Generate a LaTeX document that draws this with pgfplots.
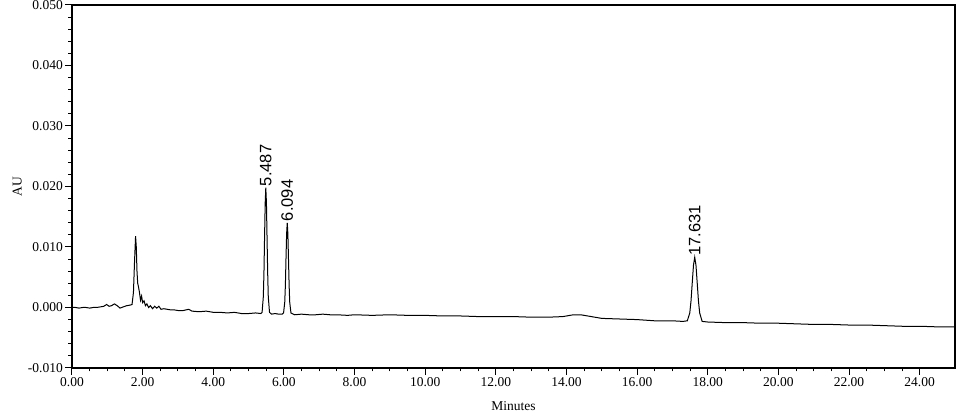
\documentclass[border=0pt]{standalone}
\usepackage{fontspec}
\setmainfont{Liberation Serif}
\newfontfamily\lsans{Liberation Sans}
\usepackage{pgfplots}
\pgfplotsset{compat=1.18}
\pgfplotstableread{
t v
0.00 0.0000
0.10 0.0000
0.20 -0.0001
0.30 0.0000
0.40 0.0000
0.50 -0.0001
0.60 0.0000
0.70 0.0000
0.80 0.0001
0.90 0.0002
0.98 0.0005
1.05 0.0002
1.12 0.0003
1.20 0.0006
1.28 0.0003
1.36 -0.0001
1.45 0.0001
1.55 0.0003
1.65 0.0004
1.70 0.0005
1.74 0.0025
1.77 0.0075
1.80 0.0118
1.82 0.0100
1.84 0.0060
1.86 0.0040
1.88 0.0035
1.91 0.0025
1.94 0.0012
1.97 0.0019
2.00 0.0008
2.04 0.0011
2.08 0.0003
2.12 0.0006
2.17 0.0000
2.22 0.0003
2.28 -0.0002
2.34 0.0002
2.40 -0.0001
2.46 0.0002
2.52 -0.0003
2.60 -0.0002
2.70 -0.0003
2.80 -0.0004
2.90 -0.0004
3.00 -0.0005
3.15 -0.0005
3.30 -0.0003
3.40 -0.0006
3.60 -0.0007
3.80 -0.0006
4.00 -0.0008
4.20 -0.0008
4.40 -0.0009
4.60 -0.0008
4.80 -0.0010
5.00 -0.0010
5.20 -0.0009
5.35 -0.0010
5.382 -0.0008
5.417 0.0018
5.435 0.0058
5.452 0.0116
5.470 0.0173
5.487 0.0198
5.505 0.0173
5.522 0.0116
5.540 0.0058
5.557 0.0018
5.592 -0.0008
5.65 -0.0011
5.75 -0.0010
5.85 -0.0011
5.95 -0.0011
5.99 -0.0009
6.024 0.0009
6.042 0.0038
6.059 0.0081
6.077 0.0122
6.094 0.0140
6.112 0.0122
6.129 0.0081
6.147 0.0038
6.164 0.0009
6.199 -0.0009
6.30 -0.0012
6.50 -0.0011
6.70 -0.0012
6.90 -0.0012
7.10 -0.0011
7.30 -0.0012
7.50 -0.0012
7.80 -0.0013
8.00 -0.0012
8.50 -0.0013
9.00 -0.0012
9.50 -0.0013
10.00 -0.0013
10.50 -0.0014
11.00 -0.0014
11.50 -0.0015
12.00 -0.0015
12.50 -0.0015
13.00 -0.0016
13.50 -0.0016
13.90 -0.0015
14.20 -0.0012
14.40 -0.0012
14.70 -0.0015
15.00 -0.0018
15.50 -0.0019
16.00 -0.0020
16.50 -0.0022
17.00 -0.0022
17.30 -0.0023
17.421 -0.0022
17.491 -0.0009
17.526 0.0011
17.561 0.0041
17.596 0.0070
17.631 0.0083
17.666 0.0070
17.701 0.0041
17.736 0.0011
17.771 -0.0009
17.841 -0.0023
18.00 -0.0024
18.50 -0.0025
19.00 -0.0025
19.50 -0.0026
20.00 -0.0026
20.50 -0.0027
21.00 -0.0028
21.50 -0.0028
22.00 -0.0029
22.50 -0.0029
23.00 -0.0030
23.50 -0.0031
24.00 -0.0031
24.50 -0.0032
25.00 -0.0032
}\trace
\pgfplotstableread{
t v label
5.487 0.0198 5.487
6.094 0.0140 6.094
17.631 0.0083 17.631
}\peaks
\begin{document}
\begin{tikzpicture}
\begin{axis}[
  scale only axis, width=883pt, height=363pt,
  at={(0pt,0pt)}, anchor=south west,
  xmin=0, xmax=25, ymin=-0.01, ymax=0.05,
  xtick={0,2,4,6,8,10,12,14,16,18,20,22,24},
  xticklabels={0.00,2.00,4.00,6.00,8.00,10.00,12.00,14.00,16.00,18.00,20.00,22.00,24.00},
  ytick={-0.01,0,0.01,0.02,0.03,0.04,0.05},
  yticklabels={-0.010,0.000,0.010,0.020,0.030,0.040,0.050},
  scaled y ticks=false, scaled x ticks=false,
  minor x tick num=3, minor y tick num=4,
  tick align=outside, tick pos=left,
  major tick length=7pt, minor tick length=3.5pt,
  every tick/.style={black, line width=1pt},
  axis line style={line width=1.3pt},
  font=\fontsize{13.5}{15}\selectfont,
  xticklabel style={inner sep=2pt},
  yticklabel style={inner sep=2pt},
  xlabel={Minutes}, ylabel={AU},
  every axis x label/.style={at={(axis description cs:0.5,-0.104)}, anchor=center},
  every axis y label/.style={at={(axis description cs:-0.062,0.5)}, rotate=90, anchor=center},
  clip=false,
]
\addplot[black, line width=1pt] table[x=t, y=v] {\trace};
\addplot[draw=none, mark=none, nodes near coords, point meta=explicit symbolic,
  nodes near coords style={rotate=90, anchor=west, inner sep=1.5pt, font=\lsans\fontsize{16.5}{18}\selectfont}]
  table[x=t, y=v, meta=label] {\peaks};
\end{axis}
\pgfresetboundingbox
\useasboundingbox (-72pt,-44pt) rectangle (903pt,368pt);
\end{tikzpicture}
\end{document}
